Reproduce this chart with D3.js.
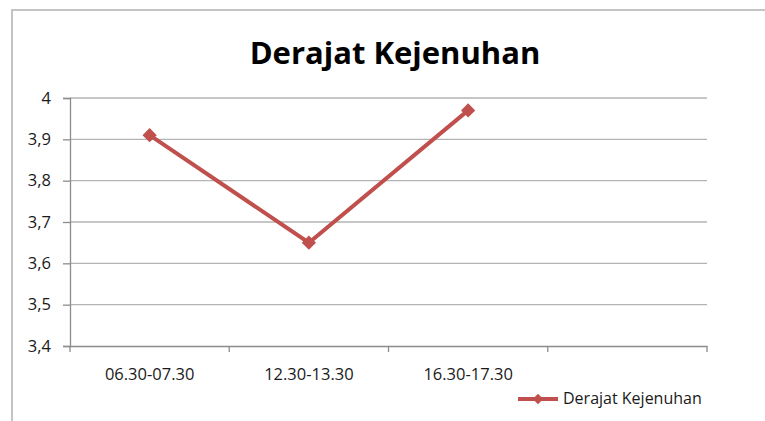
<!DOCTYPE html>
<html>
<head>
<meta charset="utf-8">
<script src="https://cdn.jsdelivr.net/npm/d3@7"></script>
<style>
  body { margin: 0; background: #fff; }
  text { font-family: "Open Sans", "Noto Sans", sans-serif; fill: #1a1a1a; }
</style>
</head>
<body>
<div id="chart"></div>
<script>
// data
const categories = ['06.30-07.30', '12.30-13.30', '16.30-17.30', ''];
const values = [3.91, 3.65, 3.97];
const yTicks = [3.4, 3.5, 3.6, 3.7, 3.8, 3.9, 4];
const seriesName = 'Derajat Kejenuhan';

var W = 765, H = 421;
var margin = { top: 98, right: 58, bottom: 75, left: 70 },
    width = W - margin.left - margin.right,
    height = H - margin.top - margin.bottom;

var svg = d3.select('#chart').append('svg')
    .attr('width', W)
    .attr('height', H);

// outer frame
svg.append('rect')
    .attr('x', 12).attr('y', 10)
    .attr('width', W).attr('height', H)
    .attr('fill', 'none')
    .attr('stroke', '#c4c4c4')
    .attr('stroke-width', 2);

svg.append('text')
    .attr('x', 395).attr('y', 64)
    .attr('text-anchor', 'middle')
    .style('font-size', '31px')
    .style('font-weight', 'bold')
    .style('fill', '#000')
    .text('Derajat Kejenuhan');

var g = svg.append('g')
    .attr('transform', 'translate(' + margin.left + ',' + margin.top + ')');

var x = d3.scaleBand()
    .domain(categories.map((d, i) => i))
    .range([0, width]);

var y = d3.scaleLinear()
    .domain([3.4, 4])
    .range([height, 0]);

// gridlines
g.selectAll('.grid')
    .data(yTicks.slice(1))
    .enter().append('line')
    .attr('x1', 0).attr('x2', width)
    .attr('y1', d => y(d)).attr('y2', d => y(d))
    .attr('stroke', '#b3b3b3')
    .attr('stroke-width', 1.3);

// y axis
var yAxis = g.append('g')
    .call(d3.axisLeft(y).tickValues(yTicks).tickSize(7).tickPadding(12)
        .tickFormat(d => String(d).replace('.', ',')));
yAxis.select('.domain').attr('stroke', '#8c8c8c').attr('stroke-width', 1.3);
yAxis.selectAll('line').attr('stroke', '#8c8c8c').attr('stroke-width', 1.3);
yAxis.selectAll('text').style('font-size', '16.5px').style('fill', '#1a1a1a');

// x axis
var xAxis = g.append('g')
    .attr('transform', 'translate(0,' + height + ')')
    .call(d3.axisBottom(x).tickSize(0).tickPadding(22)
        .tickFormat(i => categories[i]));
xAxis.select('.domain').attr('stroke', '#8c8c8c').attr('stroke-width', 1.3);
xAxis.selectAll('text').style('font-size', '16.5px').style('fill', '#1a1a1a');

// band boundary ticks
var edges = d3.range(categories.length + 1).map(i => i * x.bandwidth());
g.selectAll('.xtick')
    .data(edges)
    .enter().append('line')
    .attr('x1', d => d).attr('x2', d => d)
    .attr('y1', height).attr('y2', height + 6)
    .attr('stroke', '#8c8c8c')
    .attr('stroke-width', 1.3);

var color = '#c0504d';
var line = d3.line()
    .x((d, i) => x(i) + x.bandwidth() / 2)
    .y(d => y(d));

g.append('path')
    .datum(values)
    .attr('d', line)
    .attr('fill', 'none')
    .attr('stroke', color)
    .attr('stroke-width', 4);

var diamond = d3.symbol().type(d3.symbolDiamond2).size(130);
g.selectAll('.pt')
    .data(values)
    .enter().append('path')
    .attr('d', diamond)
    .attr('transform', (d, i) => 'translate(' + (x(i) + x.bandwidth() / 2) + ',' + y(d) + ')')
    .attr('fill', color);

// legend
var lg = svg.append('g').attr('transform', 'translate(518,399)');
lg.append('line')
    .attr('x1', 0).attr('x2', 40)
    .attr('stroke', color).attr('stroke-width', 4);
lg.append('path')
    .attr('d', d3.symbol().type(d3.symbolDiamond2).size(70))
    .attr('transform', 'translate(20,0)')
    .attr('fill', color);
lg.append('text')
    .attr('x', 45).attr('y', 5)
    .style('font-size', '16px')
    .text(seriesName);
</script>
</body>
</html>
